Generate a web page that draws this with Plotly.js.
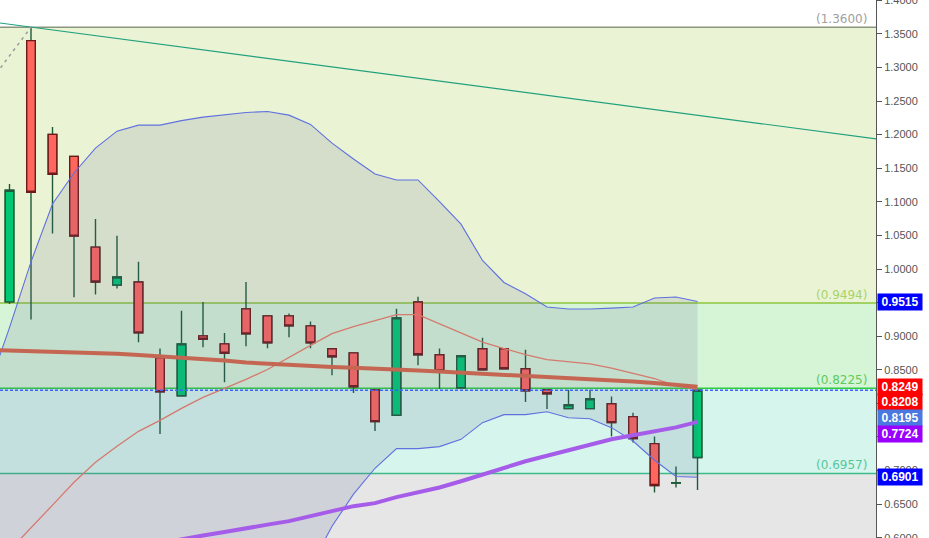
<!DOCTYPE html>
<html><head><meta charset="utf-8">
<script src="https://cdn.plot.ly/plotly-3.0.1.min.js"></script>
<style>html,body{margin:0;padding:0;background:#fff;}#chart{width:929px;height:538px;}</style>
</head><body><div id="chart"></div>
<script>
// Candle positions (bar index) and OHLC values
const candleIdx = [0,1,2,3,4,5,6,7,8,9,10,11,12,13,14,15,16,17,18,19,20,21,22,23,24,25,26,27,28,29,30,31,32];
const openV  = [0.9510,1.3399,1.2004,1.1677,1.0326,0.9762,0.9806,0.8678,0.8114,0.9005,0.8886,0.9406,0.9302,0.9302,0.9153,0.8812,0.8752,0.8203,0.7822,0.9509,0.8723,0.8233,0.8812,0.8812,0.8515,0.8203,0.7921,0.7921,0.7995,0.7802,0.7401,0.6815,0.7194];
const highV  = [1.1266,1.3600,1.2112,1.1677,1.0746,1.0494,1.0108,0.8816,0.9380,0.9509,0.9049,0.9806,0.9302,0.9336,0.9217,0.8812,0.8752,0.8210,0.9410,0.9588,0.8816,0.8708,0.8975,0.8812,0.8797,0.8203,0.8203,0.8203,0.8104,0.7862,0.7505,0.7060,0.8195];
const lowV   = [0.9480,0.9247,1.0528,0.9578,0.9622,0.9711,0.8910,0.7544,0.8114,0.8835,0.8316,0.8850,0.8821,0.8984,0.8821,0.8420,0.8153,0.7588,0.7822,0.8568,0.8218,0.8233,0.8500,0.8515,0.8019,0.7915,0.7921,0.7921,0.7505,0.7416,0.6674,0.6748,0.6712];
const closeV = [1.1172,1.1143,1.1410,1.0489,0.9806,0.9881,0.9049,0.8173,0.8886,0.8954,0.8746,0.9034,0.8901,0.9153,0.8901,0.8693,0.8248,0.7728,0.9272,0.8723,0.8485,0.8708,0.8500,0.8515,0.8188,0.8144,0.7980,0.8069,0.7713,0.7476,0.6778,0.6818,0.8195];

// Indicator series (bar index -1 .. 32)
const indIdx = [-1,0,1,2,3,4,5,6,7,8,9,10,11,12,13,14,15,16,17,18,19,20,21,22,23,24,25,26,27,28,29,30,31,32];
const bbUpper = [0.8207,0.9128,1.0107,1.0968,1.1429,1.1800,1.2052,1.2141,1.2141,1.2208,1.2260,1.2290,1.2330,1.2345,1.2290,1.2152,1.1874,1.1637,1.1414,1.1325,1.1325,1.1003,1.0667,1.0127,0.9800,0.9632,0.9435,0.9405,0.9405,0.9417,0.9435,0.9568,0.9583,0.9515];
const bbMid   = [0.5475,0.5817,0.6144,0.6485,0.6826,0.7123,0.7361,0.7584,0.7747,0.7925,0.8088,0.8222,0.8356,0.8504,0.8688,0.8863,0.9038,0.9142,0.9231,0.9321,0.9321,0.9187,0.9053,0.8912,0.8816,0.8727,0.8652,0.8623,0.8589,0.8526,0.8452,0.8370,0.8259,0.8208];
const bbLower = [0.2743,0.2506,0.2181,0.2002,0.2223,0.2446,0.2670,0.3027,0.3353,0.3642,0.3916,0.4154,0.4382,0.4663,0.5086,0.5574,0.6170,0.6648,0.7034,0.7327,0.7327,0.7356,0.7465,0.7713,0.7832,0.7832,0.7876,0.7787,0.7772,0.7639,0.7440,0.7153,0.6911,0.6901];
const maSlow  = [0.8796,0.8786,0.8779,0.8771,0.8764,0.8752,0.8737,0.8719,0.8701,0.8682,0.8660,0.8638,0.8608,0.8589,0.8571,0.8556,0.8541,0.8529,0.8519,0.8504,0.8489,0.8474,0.8459,0.8445,0.8425,0.8408,0.8393,0.8378,0.8363,0.8348,0.8326,0.8304,0.8277,0.8249];
const maPurple= [0.5475,0.5527,0.5579,0.5631,0.5683,0.5743,0.5802,0.5861,0.5921,0.5980,0.6032,0.6084,0.6144,0.6195,0.6247,0.6314,0.6396,0.6470,0.6515,0.6604,0.6678,0.6748,0.6841,0.6941,0.7034,0.7138,0.7220,0.7302,0.7391,0.7465,0.7524,0.7584,0.7643,0.7724];

// Drawn trendlines
const trendX = [-1, 41];
const trendY = [1.3685, 1.1908];
const dashX = [-1, 1];
const dashY = [1.2745, 1.3600];

// Fibonacci-style levels
const levels = [1.3600, 0.9494, 0.8225, 0.6957];
const levelLabels = ['(1.3600)','(0.9494)','(0.8225)','(0.6957)'];
const levelLineColors = ['#8b9680','#8cc63f','#2ecc40','#3dba8c'];
const levelTextColors = ['#a0a0a0','#a8d26a','#5ccb5c','#55c79c'];
const zoneColors = ['#eaf4d4','#d6f4d6','#d6f5ec','#e6e6e6'];
const lastPrice = 0.8195;

// Price tags on the right axis
const tagValues = [0.9515, 0.8249, 0.8208, 0.8195, 0.7724, 0.6901];
const tagText   = ['0.9515','0.8249','0.8208','0.8195','0.7724','0.6901'];
const tagColors = ['#0000ff','#ff0000','#ff0000','#4a78e0','#9900ff','#0000ff'];
const tagShift  = [0, 0, -12.7, -27.9, -12.1, 0];

const yRange = [0.5996, 1.4004];
const xRange = [-0.442, 40.302];

const bandColor = 'rgb(95,112,225)';
const traces = [
  {x: indIdx, y: bbLower, type:'scatter', mode:'lines', line:{color:bandColor, width:1.1}, hoverinfo:'skip'},
  {x: indIdx, y: bbUpper, type:'scatter', mode:'lines', line:{color:bandColor, width:1.1}, fill:'tonexty', fillcolor:'rgba(90,100,150,0.15)', hoverinfo:'skip'},
  {x: indIdx, y: bbMid, type:'scatter', mode:'lines', line:{color:'rgb(212,122,110)', width:1.3}, hoverinfo:'skip'},
  {x: indIdx, y: maSlow, type:'scatter', mode:'lines', line:{color:'rgb(196,102,82)', width:4}, hoverinfo:'skip'},
  {x: indIdx, y: maPurple, type:'scatter', mode:'lines', line:{color:'rgb(165,92,232)', width:4}, hoverinfo:'skip'},
  {x: trendX, y: trendY, type:'scatter', mode:'lines', line:{color:'#22a07e', width:1.2}, hoverinfo:'skip'},
  {x: dashX, y: dashY, type:'scatter', mode:'lines', line:{color:'#9a9a9a', width:1.5, dash:'3px,4px'}, hoverinfo:'skip'},
  {x: candleIdx, open: openV, high: highV, low: lowV, close: closeV, type:'candlestick', whiskerwidth:0,
   increasing:{line:{color:'#1e5a3a', width:1.4}, fillcolor:'#00c872'},
   decreasing:{line:{color:'#1e5a3a', width:1.4}, fillcolor:'#ff665e'}, hoverinfo:'skip'},
  {x: candleIdx, open: openV, close: closeV,
   high: openV.map((o,i)=>Math.max(o, closeV[i])), low: openV.map((o,i)=>Math.min(o, closeV[i])),
   type:'candlestick', whiskerwidth:0,
   increasing:{line:{color:'#1e5a3a', width:1.4}, fillcolor:'#00c872'},
   decreasing:{line:{color:'#6e1a1a', width:1.4}, fillcolor:'#ff665e'}, hoverinfo:'skip'}
];

const shapes = [];
for (let i = 0; i < levels.length; i++) {
  const top = levels[i];
  const bottom = i + 1 < levels.length ? levels[i+1] : yRange[0];
  shapes.push({type:'rect', xref:'paper', x0:0, x1:1, yref:'y', y0:bottom, y1:top, fillcolor:zoneColors[i], line:{width:0}, layer:'below'});
}
for (let i = 0; i < levels.length; i++) {
  shapes.push({type:'line', xref:'paper', x0:0, x1:1, yref:'y', y0:levels[i], y1:levels[i], line:{color:levelLineColors[i], width:1.5}, layer:'below'});
}
shapes.push({type:'line', xref:'paper', x0:0, x1:1, yref:'y', y0:lastPrice, y1:lastPrice, line:{color:'#3a62ff', width:1.3, dash:'3px,2px'}, layer:'above'});

const annotations = [];
for (let i = 0; i < levels.length; i++) {
  annotations.push({xref:'paper', x:1, xanchor:'right', xshift:-7, yref:'y', y:levels[i], yanchor:'bottom', yshift:-1,
    text:levelLabels[i], showarrow:false, font:{family:'DejaVu Sans, Verdana, sans-serif', size:12, color:levelTextColors[i]}});
}
for (let i = 0; i < tagValues.length; i++) {
  annotations.push({xref:'paper', x:1, xanchor:'left', xshift:1, yref:'y', y:tagValues[i], yanchor:'middle', yshift:tagShift[i],
    text:'<b>'+tagText[i]+'</b>', showarrow:false, bgcolor:tagColors[i], width:44, height:16, borderpad:0,
    font:{family:'Liberation Sans, Arial, sans-serif', size:12, color:'#ffffff'}});
}

const layout = {
  width:929, height:538,
  margin:{l:0, r:53, t:0, b:0, pad:0},
  paper_bgcolor:'#ffffff', plot_bgcolor:'#ffffff',
  showlegend:false, boxgap:0.43, hovermode:false,
  xaxis:{range:xRange, visible:false, showgrid:false, zeroline:false, rangeslider:{visible:false}, fixedrange:true},
  yaxis:{range:yRange, side:'right', showgrid:false, zeroline:false, showline:true, linecolor:'#555555', linewidth:1,
    ticks:'outside', ticklen:5, tickcolor:'#555555', dtick:0.05, tick0:0, tickformat:'.4f', ticklabeloverflow:'allow',
    tickfont:{family:'Liberation Sans, Arial, sans-serif', size:11, color:'#555555'}, fixedrange:true},
  shapes: shapes,
  annotations: annotations
};

Plotly.newPlot('chart', traces, layout, {displayModeBar:false, staticPlot:true});
</script>
</body></html>
